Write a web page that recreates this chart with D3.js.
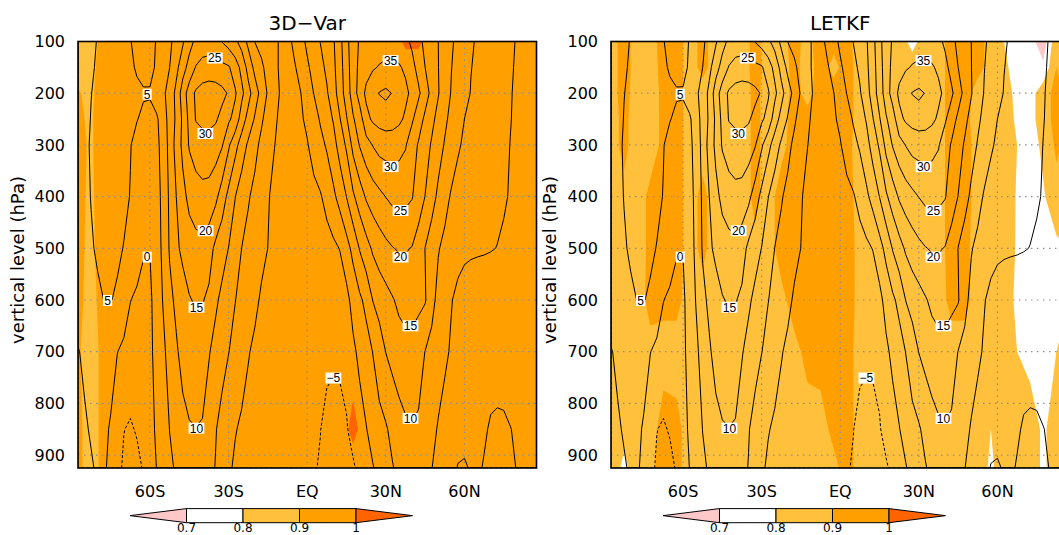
<!DOCTYPE html>
<html>
<head>
<meta charset="utf-8">
<script src="https://cdn.jsdelivr.net/npm/d3@7"></script>
<style>
  body { margin: 0; background: #fff; }
  text { font-family: "DejaVu Sans", sans-serif; fill: #000; }
  .lab text { font-family: "Liberation Sans", Arial, sans-serif; }
</style>
</head>
<body>
<svg id="chart" width="1059" height="535"></svg>
<script>
'use strict';

// pressure levels (grid rows)
var levels = [100, 150, 200, 250, 300, 400, 500, 600, 700, 850, 925];

// 2.5 degree latitudes of the wind grid
var windLats = [-87.5, -85, -82.5, -80, -77.5, -75, -72.5, -70, -67.5, -65, -62.5, -60,
  -57.5, -55, -52.5, -50, -47.5, -45, -42.5, -40, -37.5, -35, -32.5, -30,
  -27.5, -25, -22.5, -20, -17.5, -15, -12.5, -10, -7.5, -5, -2.5, 0,
  2.5, 5, 7.5, 10, 12.5, 15, 17.5, 20, 22.5, 25, 27.5, 30,
  32.5, 35, 37.5, 40, 42.5, 45, 47.5, 50, 52.5, 55, 57.5, 60,
  62.5, 65, 67.5, 70, 72.5, 75, 77.5, 80, 82.5, 85, 87.5];

// zonal wind (m/s), one row per level, contoured
var uWind = [
  [3.5, 4.0, 4.6, 5.1, 5.8, 6.3, 6.3, 5.9, 5.1, 4.3, 3.8, 4.0, 5.2, 7.2, 9.2, 11.6, 14.4, 18.3, 21.0, 22.3, 22.4, 21.8, 19.8, 17.9, 16.0, 13.0, 8.7, 4.9, 3.6, 2.3, 0.9, -0.7, -1.6, 1.1, 3.5, 5.9,
   8.0, 10.1, 12.3, 14.5, 18.6, 23.6, 27.8, 30.5, 31.7, 32.4, 32.9, 33.0, 32.8, 32.3, 31.2, 29.1, 26.3, 23.9, 22.0, 20.0, 17.8, 15.6, 13.8, 12.2, 10.5, 9.5, 8.7, 7.9, 7.1, 6.3, 5.5, 4.8, 4.2, 3.7, 3.2],
  [3.6, 4.1, 4.7, 5.3, 5.9, 6.3, 6.4, 6.2, 5.6, 4.6, 4.2, 4.4, 5.3, 7.4, 10.0, 13.6, 18.0, 21.8, 25.3, 26.7, 27.2, 27.0, 26.2, 25.5, 22.5, 18.5, 13.2, 8.6, 5.8, 3.5, 0.9, -0.7, -1.4, -0.6, 1.8, 4.3,
   6.5, 8.7, 10.9, 13.9, 18.0, 22.9, 27.7, 31.2, 33.3, 34.5, 35.3, 35.8, 35.9, 35.5, 34.2, 31.5, 28.3, 25.0, 22.5, 20.1, 17.6, 15.1, 13.6, 11.8, 10.1, 9.3, 8.5, 7.7, 6.9, 6.1, 5.4, 4.6, 4.1, 3.7, 3.2],
  [3.8, 4.3, 4.95, 5.5, 6.0, 6.4, 6.5, 6.4, 6.1, 5.7, 5.25, 5.2, 7.5, 9.1, 11.9, 16.3, 22.5, 27.4, 30.8, 32.1, 32.5, 32.2, 31.3, 29.5, 25.6, 21.2, 16.7, 12.4, 8.3, 4.4, 1.5, -0.5, -1.3, -0.8, -0.1, 2.5,
   5.1, 7.3, 9.5, 13.0, 17.4, 22.4, 27.3, 32.2, 36.0, 38.4, 40.2, 41.0, 39.8, 38.0, 36.1, 33.8, 30.8, 27.2, 23.6, 20.3, 17.4, 14.7, 13.0, 11.4, 9.8, 9.1, 8.3, 7.5, 6.7, 5.9, 5.2, 4.5, 4.0, 3.6, 3.2],
  [3.8, 4.2, 5.1, 5.6, 6.0, 6.3, 6.3, 6.1, 5.7, 5.1, 4.5, 4.4, 4.3, 7.6, 11.9, 15.8, 21.0, 26.4, 30.3, 31.2, 31.3, 30.6, 28.5, 25.8, 23.3, 17.5, 13.3, 9.5, 5.7, 3.0, 0.7, -1.0, -1.8, -1.6, -0.6, 0.9,
   2.9, 5.5, 7.8, 10.4, 14.8, 19.6, 24.5, 27.5, 33.5, 35.8, 36.8, 37.4, 37.2, 36.1, 34.2, 30.7, 27.3, 24.0, 21.2, 18.5, 15.9, 13.7, 11.9, 10.0, 9.3, 8.5, 7.8, 7.1, 6.6, 5.9, 5.1, 4.5, 4.0, 3.6, 3.2],
  [3.7, 4.3, 5.3, 5.8, 6.1, 6.2, 6.1, 5.8, 5.1, 4.2, 3.4, 3.2, 3.9, 6.7, 11.8, 16.8, 21.2, 25.5, 27.2, 28.0, 28.1, 27.4, 25.4, 20.7, 16.6, 12.7, 9.1, 6.3, 3.9, 2.0, 0.1, -1.5, -2.3, -2.3, -1.6, -0.3,
   1.8, 3.6, 5.6, 8.3, 12.0, 15.8, 21.5, 25.3, 28.1, 30.2, 31.8, 32.2, 32.1, 31.6, 30.4, 27.2, 24.5, 22.0, 19.5, 17.0, 14.6, 12.5, 10.4, 9.5, 8.9, 8.2, 7.6, 6.9, 6.3, 5.6, 4.95, 4.4, 3.9, 3.5, 3.1],
  [3.5, 4.2, 5.1, 5.6, 5.9, 6.0, 5.9, 5.6, 4.9, 3.4, 2.3, 2.1, 3.0, 6.5, 10.9, 15.0, 18.6, 21.3, 22.9, 23.5, 23.2, 21.3, 17.5, 13.6, 10.1, 7.3, 5.4, 3.8, 2.3, 0.4, -1.3, -2.4, -3.0, -3.0, -2.6, -2.0,
   -1.3, -0.4, 1.5, 4.0, 6.9, 10.1, 14.2, 17.5, 20.6, 22.5, 23.8, 25.1, 26.2, 26.5, 26.3, 25.3, 22.5, 19.9, 16.9, 14.0, 11.5, 9.5, 8.8, 8.2, 7.6, 7.1, 6.6, 6.1, 5.6, 5.3, 4.8, 4.3, 3.8, 3.4, 3.0],
  [3.0, 3.8, 4.7, 5.4, 5.7, 5.8, 5.5, 4.9, 3.6, 2.2, 0.3, 0.2, 2.6, 6.2, 10.5, 14.0, 16.2, 17.6, 18.3, 18.5, 17.2, 13.8, 11.8, 9.9, 7.6, 4.95, 3.7, 2.4, 1.2, -0.05, -1.3, -2.3, -3.0, -3.3, -3.3, -3.1,
   -2.8, -2.3, -1.8, -1.0, 0.2, 3.2, 6.4, 10.3, 13.1, 15.7, 17.5, 18.8, 19.8, 20.4, 20.4, 19.8, 17.8, 14.9, 12.6, 10.3, 8.9, 7.6, 6.4, 5.7, 5.5, 5.4, 5.3, 5.15, 4.95, 4.6, 4.2, 3.8, 3.4, 3.0, 2.6],
  [2.0, 3.0, 3.9, 4.5, 5.05, 5.1, 4.6, 3.0, 0.1, -0.8, -1.1, -0.9, 2.3, 5.3, 8.8, 11.0, 12.8, 14.7, 15.5, 15.3, 14.0, 10.8, 8.9, 7.0, 5.1, 3.8, 2.5, 1.0, -0.6, -1.5, -2.3, -2.9, -3.3, -3.6, -3.8, -3.9,
   -4.0, -3.9, -3.7, -3.4, -2.9, -1.5, 1.8, 4.1, 6.3, 10.1, 11.8, 13.2, 14.6, 16.0, 16.8, 16.9, 16.3, 15.4, 11.5, 8.6, 6.8, 5.2, 4.0, 3.5, 3.2, 3.0, 3.0, 3.0, 3.0, 3.0, 2.9, 2.8, 2.6, 2.3, 2.0],
  [-0.2, 0.6, 1.4, 1.9, 1.8, 1.2, 0.1, -1.1, -1.9, -2.2, -1.9, -0.8, 1.3, 4.0, 6.9, 9.4, 11.5, 12.9, 13.5, 13.1, 10.3, 8.5, 6.8, 5.1, 3.6, 2.2, 0.3, -0.9, -1.8, -2.4, -2.9, -3.3, -3.6, -3.8, -4.0, -4.1,
   -4.2, -4.3, -4.4, -4.5, -4.4, -3.8, -1.0, 1.2, 3.0, 5.1, 7.6, 10.1, 11.6, 12.8, 13.4, 13.3, 12.0, 9.9, 8.6, 7.3, 5.8, 4.5, 3.6, 3.1, 2.8, 2.6, 2.6, 2.6, 2.6, 2.5, 2.4, 2.2, 2.0, 1.7, 1.4],
  [-1.0, -0.4, 0.3, 0.8, 0.6, -0.3, -3.0, -4.9, -5.5, -4.6, -3.0, -1.3, 0.6, 2.7, 5.1, 7.2, 8.7, 9.6, 9.9, 9.5, 7.8, 5.3, 3.3, 1.6, 0.3, -0.8, -1.6, -2.2, -2.6, -2.9, -3.2, -3.5, -3.8, -4.1, -4.4, -4.7,
   -4.9, -4.95, -5.7, -6.0, -5.9, -5.3, -3.6, -2.0, -0.2, 1.8, 3.5, 4.5, 6.3, 8.0, 9.2, 9.7, 9.3, 8.0, 6.3, 4.6, 3.4, 2.4, 1.5, 1.2, 1.5, 1.3, 0.7, -0.6, -1.0, -0.8, -0.1, 0.5, 0.8, 0.8, 0.6],
  [-1.8, -1.1, -0.3, 0.4, 0.3, -0.6, -3.8, -5.6, -6.5, -6.2, -4.6, -2.6, 0.1, 2.3, 4.1, 5.6, 6.9, 7.7, 8.0, 7.6, 6.4, 4.8, 2.8, 0.8, -0.8, -1.8, -2.5, -2.9, -3.2, -3.4, -3.6, -3.8, -4.0, -4.2, -4.4, -4.6,
   -4.8, -5.2, -6.0, -6.5, -6.6, -6.3, -5.5, -4.0, -2.2, -0.3, 1.5, 3.2, 4.7, 6.2, 7.3, 7.8, 7.6, 6.8, 5.1, 3.6, 2.3, 1.2, -0.2, -0.4, 0.3, 0.8, -0.4, -1.5, -2.0, -1.8, -1.0, 0.2, 0.9, 1.0, 0.8]
];

// 5 degree latitudes of the correlation grids
var corrLats = [-87.5, -82.5, -77.5, -72.5, -67.5, -62.5, -57.5, -52.5, -47.5, -42.5, -37.5, -32.5,
  -27.5, -22.5, -17.5, -12.5, -7.5, -2.5, 2.5, 7.5, 12.5, 17.5, 22.5, 27.5,
  32.5, 37.5, 42.5, 47.5, 52.5, 57.5, 62.5, 67.5, 72.5, 77.5, 82.5, 87.5];

var corr3dvar = [
  [0.87, 0.87, 0.93, 0.95, 0.95, 0.95, 0.95, 0.95, 0.95, 0.95, 0.95, 0.95, 0.95, 0.95, 0.95, 0.95, 0.95, 0.95, 0.95, 0.95, 0.95, 0.95, 0.95, 0.95, 0.95, 1.02, 1.02, 0.95, 0.95, 0.95, 0.95, 0.95, 0.95, 0.95, 0.95, 0.95],
  [0.88, 0.88, 0.94, 0.95, 0.95, 0.95, 0.95, 0.95, 0.95, 0.95, 0.95, 0.95, 0.95, 0.95, 0.95, 0.95, 0.95, 0.95, 0.95, 0.95, 0.95, 0.95, 0.95, 0.95, 0.95, 0.95, 0.95, 0.95, 0.95, 0.95, 0.95, 0.95, 0.95, 0.95, 0.95, 0.95],
  [0.905, 0.885, 0.95, 0.95, 0.95, 0.95, 0.95, 0.95, 0.95, 0.95, 0.95, 0.95, 0.95, 0.95, 0.95, 0.95, 0.95, 0.95, 0.95, 0.95, 0.95, 0.95, 0.95, 0.95, 0.95, 0.95, 0.95, 0.95, 0.95, 0.95, 0.95, 0.95, 0.95, 0.95, 0.95, 0.95],
  [0.91, 0.89, 0.95, 0.95, 0.95, 0.95, 0.95, 0.95, 0.95, 0.95, 0.95, 0.95, 0.95, 0.95, 0.95, 0.95, 0.95, 0.95, 0.95, 0.95, 0.95, 0.95, 0.95, 0.95, 0.95, 0.95, 0.95, 0.95, 0.95, 0.95, 0.95, 0.95, 0.95, 0.95, 0.95, 0.95],
  [0.92, 0.89, 0.95, 0.95, 0.95, 0.95, 0.95, 0.95, 0.95, 0.95, 0.95, 0.95, 0.95, 0.95, 0.95, 0.95, 0.95, 0.95, 0.95, 0.95, 0.95, 0.95, 0.95, 0.95, 0.95, 0.95, 0.95, 0.95, 0.95, 0.95, 0.95, 0.95, 0.95, 0.95, 0.95, 0.95],
  [0.92, 0.885, 0.95, 0.95, 0.95, 0.95, 0.95, 0.95, 0.95, 0.95, 0.95, 0.95, 0.95, 0.95, 0.95, 0.95, 0.95, 0.95, 0.95, 0.95, 0.95, 0.95, 0.95, 0.95, 0.95, 0.95, 0.95, 0.95, 0.95, 0.95, 0.95, 0.95, 0.95, 0.95, 0.95, 0.95],
  [0.92, 0.88, 0.95, 0.95, 0.95, 0.95, 0.95, 0.95, 0.95, 0.95, 0.95, 0.95, 0.95, 0.95, 0.95, 0.95, 0.95, 0.95, 0.95, 0.95, 0.95, 0.95, 0.95, 0.95, 0.95, 0.95, 0.95, 0.95, 0.95, 0.95, 0.95, 0.95, 0.95, 0.95, 0.95, 0.95],
  [0.92, 0.87, 0.94, 0.95, 0.95, 0.95, 0.95, 0.95, 0.95, 0.95, 0.95, 0.95, 0.95, 0.95, 0.95, 0.95, 0.95, 0.95, 0.95, 0.95, 0.95, 0.95, 0.95, 0.95, 0.95, 0.95, 0.95, 0.95, 0.95, 0.95, 0.95, 0.95, 0.95, 0.95, 0.95, 0.95],
  [0.91, 0.86, 0.93, 0.95, 0.95, 0.95, 0.95, 0.95, 0.95, 0.95, 0.95, 0.95, 0.95, 0.95, 0.95, 0.95, 0.95, 0.95, 0.95, 0.95, 0.95, 0.95, 0.95, 0.95, 0.95, 0.95, 0.95, 0.95, 0.95, 0.95, 0.95, 0.95, 0.95, 0.95, 0.95, 0.95],
  [0.92, 0.86, 0.93, 0.95, 0.95, 0.95, 0.95, 0.95, 0.95, 0.95, 0.95, 0.95, 0.95, 0.95, 0.95, 0.95, 0.95, 0.95, 0.95, 0.95, 0.95, 1.03, 0.95, 0.95, 0.95, 0.95, 0.95, 0.95, 0.95, 0.95, 0.95, 0.95, 0.95, 0.95, 0.95, 0.95],
  [0.92, 0.86, 0.93, 0.95, 0.95, 0.95, 0.95, 0.95, 0.95, 0.95, 0.95, 0.95, 0.95, 0.95, 0.95, 0.95, 0.95, 0.95, 0.95, 0.95, 0.95, 0.95, 0.95, 0.95, 0.95, 0.95, 0.95, 0.95, 0.95, 0.95, 0.95, 0.95, 0.95, 0.95, 0.95, 0.95]
];

var corrLetkf = [
  [0.87, 0.93, 0.87, 0.87, 0.93, 0.93, 0.87, 0.92, 0.87, 0.87, 0.87, 0.92, 0.87, 0.88, 0.92, 0.88, 0.93, 0.92, 0.92, 0.87, 0.86, 0.87, 0.86, 0.76, 0.86, 0.87, 0.93, 0.93, 0.92, 0.88, 0.80, 0.76, 0.74, 0.64, 0.88, 0.87],
  [0.87, 0.93, 0.87, 0.86, 0.93, 0.93, 0.87, 0.92, 0.87, 0.87, 0.86, 0.93, 0.87, 0.87, 0.92, 0.87, 0.93, 0.88, 0.93, 0.87, 0.86, 0.87, 0.86, 0.86, 0.86, 0.87, 0.93, 0.93, 0.92, 0.88, 0.82, 0.76, 0.76, 0.72, 0.90, 0.87],
  [0.87, 0.93, 0.86, 0.86, 0.92, 0.93, 0.87, 0.87, 0.86, 0.86, 0.86, 0.92, 0.87, 0.87, 0.92, 0.88, 0.93, 0.93, 0.93, 0.87, 0.86, 0.86, 0.86, 0.86, 0.86, 0.87, 0.93, 0.93, 0.87, 0.88, 0.85, 0.77, 0.76, 0.86, 0.93, 0.87],
  [0.87, 0.92, 0.86, 0.86, 0.92, 0.93, 0.87, 0.87, 0.86, 0.86, 0.86, 0.92, 0.87, 0.88, 0.92, 0.92, 0.93, 0.93, 0.93, 0.87, 0.86, 0.86, 0.86, 0.86, 0.86, 0.87, 0.93, 0.92, 0.87, 0.86, 0.86, 0.78, 0.76, 0.86, 0.93, 0.87],
  [0.87, 0.92, 0.86, 0.86, 0.92, 0.93, 0.87, 0.87, 0.86, 0.86, 0.86, 0.92, 0.87, 0.88, 0.93, 0.93, 0.93, 0.93, 0.92, 0.87, 0.86, 0.86, 0.86, 0.86, 0.86, 0.87, 0.93, 0.92, 0.88, 0.86, 0.87, 0.80, 0.76, 0.82, 0.92, 0.87],
  [0.88, 0.88, 0.86, 0.92, 0.92, 0.93, 0.87, 0.92, 0.86, 0.86, 0.86, 0.92, 0.87, 0.93, 0.94, 0.94, 0.94, 0.94, 0.93, 0.87, 0.86, 0.86, 0.86, 0.86, 0.86, 0.87, 0.93, 0.92, 0.88, 0.86, 0.87, 0.79, 0.76, 0.79, 0.86, 0.87],
  [0.88, 0.87, 0.86, 0.92, 0.92, 0.93, 0.87, 0.92, 0.86, 0.86, 0.86, 0.88, 0.87, 0.93, 0.94, 0.94, 0.94, 0.94, 0.93, 0.88, 0.86, 0.86, 0.86, 0.86, 0.86, 0.87, 0.93, 0.92, 0.87, 0.86, 0.86, 0.79, 0.76, 0.76, 0.78, 0.80],
  [0.88, 0.87, 0.87, 0.92, 0.92, 0.92, 0.87, 0.87, 0.86, 0.86, 0.86, 0.87, 0.87, 0.88, 0.93, 0.94, 0.94, 0.94, 0.93, 0.88, 0.86, 0.86, 0.86, 0.86, 0.86, 0.87, 0.92, 0.92, 0.87, 0.86, 0.85, 0.78, 0.76, 0.76, 0.77, 0.80],
  [0.87, 0.87, 0.87, 0.88, 0.87, 0.87, 0.87, 0.87, 0.86, 0.86, 0.86, 0.86, 0.86, 0.87, 0.88, 0.92, 0.93, 0.93, 0.93, 0.87, 0.86, 0.86, 0.86, 0.86, 0.86, 0.86, 0.87, 0.87, 0.86, 0.86, 0.84, 0.80, 0.76, 0.77, 0.80, 0.84],
  [0.87, 0.84, 0.87, 0.87, 0.93, 0.92, 0.87, 0.86, 0.86, 0.86, 0.86, 0.86, 0.86, 0.86, 0.86, 0.87, 0.87, 0.92, 0.93, 0.87, 0.86, 0.86, 0.86, 0.86, 0.86, 0.86, 0.86, 0.86, 0.86, 0.80, 0.86, 0.82, 0.86, 0.78, 0.86, 0.86],
  [0.87, 0.77, 0.87, 0.88, 0.93, 0.92, 0.87, 0.86, 0.86, 0.86, 0.86, 0.86, 0.86, 0.86, 0.86, 0.86, 0.87, 0.88, 0.93, 0.87, 0.86, 0.86, 0.86, 0.86, 0.86, 0.86, 0.86, 0.86, 0.86, 0.78, 0.86, 0.84, 0.86, 0.78, 0.86, 0.86]
];

var corrBreaks = [0.7, 0.8, 0.9, 1];
var corrColors = ['#ffc8c8', '#ffffff', '#ffc03c', '#ffa000', '#ff6400'];
var corrBreakLabels = ['0.7', '0.8', '0.9', '1'];
var windLevels = [-5, 0, 5, 10, 15, 20, 25, 30, 35, 40];

var latTicks = [-60, -30, 0, 30, 60];
var latTickLabels = ['60S', '30S', 'EQ', '30N', '60N'];
var pTicks = [100, 200, 300, 400, 500, 600, 700, 800, 900];

// contour labels: [lat, pressure, text]
var windLabels = [
  [-61.1, 202, '5'], [-35.3, 132, '25'], [-38.9, 278, '30'], [-38.8, 466, '20'],
  [-61.1, 517, '0'], [-76.2, 601, '5'], [-42.3, 614, '15'], [-42.3, 848, '10'],
  [31.8, 137, '35'], [31.8, 342, '30'], [35.6, 427, '25'], [35.6, 517, '20'],
  [39.4, 650, '15'], [39.4, 829, '10'], [10, 751, '\u22125']
];

var panels = [
  { title: '3D\u2212Var', corr: corr3dvar, left: 78, ylab: 54 },
  { title: 'LETKF', corr: corrLetkf, left: 611, ylab: 55 }
];

var plotW = 458.5, plotTop = 41.5, plotBottom = 468;
var svg = d3.select('#chart');

function interp(arr, t) {
  t = Math.max(0, Math.min(arr.length - 1, t));
  var i = Math.min(Math.floor(t), arr.length - 2);
  return arr[i] + (arr[i + 1] - arr[i]) * (t - i);
}

// d3.contours works in grid index space; map it to lat / pressure
function contourPath(geo, lats, x, y) {
  return geo.coordinates.map(function(poly) {
    return poly.map(function(ring) {
      return 'M' + ring.map(function(pt) {
        var px = x(interp(lats, pt[0] - 0.5)), py = y(interp(levels, pt[1] - 0.5));
        return px.toFixed(2) + ',' + py.toFixed(2);
      }).join('L') + 'Z';
    }).join('');
  }).join('');
}

var windContours = d3.contours().size([windLats.length, levels.length])
  .thresholds(windLevels)(d3.merge(uWind));

panels.forEach(function(panel, k) {
  var x = d3.scaleLinear().domain([-87.5, 87.5]).range([panel.left, panel.left + plotW]);
  var y = d3.scaleLinear().domain([100, 925]).range([plotTop, plotBottom]);
  var g = svg.append('g');
  var clipId = 'clip' + k;

  g.append('clipPath').attr('id', clipId)
    .append('rect').attr('x', panel.left).attr('y', plotTop).attr('width', plotW).attr('height', plotBottom - plotTop);

  var plot = g.append('g').attr('clip-path', 'url(#' + clipId + ')');

  plot.append('rect')
    .attr('x', panel.left).attr('y', plotTop).attr('width', plotW).attr('height', plotBottom - plotTop)
    .attr('fill', corrColors[0]);

  var shade = d3.contours().size([corrLats.length, levels.length])
    .thresholds(corrBreaks)(d3.merge(panel.corr));
  plot.selectAll('path.shade').data(shade).enter().append('path')
    .attr('class', 'shade')
    .attr('d', function(d) { return contourPath(d, corrLats, x, y); })
    .attr('fill', function(d, i) { return corrColors[i + 1]; })
    .attr('fill-rule', 'evenodd');

  // dotted grid
  plot.selectAll('line.gx').data(latTicks).enter().append('line')
    .attr('x1', x).attr('x2', x).attr('y1', plotTop).attr('y2', plotBottom)
    .attr('stroke', '#8c8c8c').attr('stroke-width', 1.2).attr('stroke-dasharray', '1.5,4.5');
  plot.selectAll('line.gy').data(pTicks.slice(1)).enter().append('line')
    .attr('x1', panel.left).attr('x2', panel.left + plotW).attr('y1', y).attr('y2', y)
    .attr('stroke', '#8c8c8c').attr('stroke-width', 1.2).attr('stroke-dasharray', '1.5,4.5');

  plot.selectAll('path.wind').data(windContours).enter().append('path')
    .attr('class', 'wind')
    .attr('d', function(d) { return contourPath(d, windLats, x, y); })
    .attr('fill', 'none')
    .attr('stroke', '#000')
    .attr('stroke-width', 1)
    .attr('stroke-dasharray', function(d) { return d.value < 0 ? '3,2' : null; });

  var lab = plot.selectAll('g.lab').data(windLabels).enter().append('g')
    .attr('class', 'lab')
    .attr('transform', function(d) { return 'translate(' + x(d[0]) + ',' + y(d[1]) + ')'; });
  lab.append('rect')
    .attr('x', function(d) { return -d[2].length * 3.35 - 1.2; })
    .attr('y', -5.5)
    .attr('width', function(d) { return d[2].length * 6.7 + 2.4; })
    .attr('height', 11)
    .attr('fill', '#fff');
  lab.append('text')
    .attr('text-anchor', 'middle').attr('dy', '0.36em')
    .style('font-size', '12px')
    .text(function(d) { return d[2]; });

  g.append('rect')
    .attr('x', panel.left).attr('y', plotTop).attr('width', plotW).attr('height', plotBottom - plotTop)
    .attr('fill', 'none').attr('stroke', '#000').attr('stroke-width', 1.6);

  g.selectAll('text.yt').data(pTicks).enter().append('text')
    .attr('x', panel.left - 13).attr('y', y).attr('dy', '0.36em')
    .attr('text-anchor', 'end').style('font-size', '16px')
    .text(function(d) { return d; });

  g.selectAll('text.xt').data(latTicks).enter().append('text')
    .attr('x', x).attr('y', 497).attr('text-anchor', 'middle').style('font-size', '16px')
    .text(function(d, i) { return latTickLabels[i]; });

  g.append('text')
    .attr('x', panel.left + plotW / 2).attr('y', 30)
    .attr('text-anchor', 'middle').style('font-size', '20px')
    .text(panel.title);

  g.append('text')
    .attr('transform', 'translate(' + (panel.left - panel.ylab) + ',260) rotate(-90)')
    .attr('text-anchor', 'middle').style('font-size', '18px')
    .text('vertical level (hPa)');

  // colour bar with triangular ends
  var seg = 56.5, cb0 = panel.left + 52, cbTop = 508.6, cbBot = 522.7, cbMid = (cbTop + cbBot) / 2;
  var cbx = d3.scaleLinear().domain([0, 5]).range([cb0, cb0 + 5 * seg]);
  var cb = g.append('g');
  cb.selectAll('path').data(corrColors).enter().append('path')
    .attr('d', function(d, i) {
      if (i === 0) return 'M' + cbx(0) + ',' + cbMid + 'L' + cbx(1) + ',' + cbTop + 'L' + cbx(1) + ',' + cbBot + 'Z';
      if (i === 4) return 'M' + cbx(4) + ',' + cbTop + 'L' + cbx(5) + ',' + cbMid + 'L' + cbx(4) + ',' + cbBot + 'Z';
      return 'M' + cbx(i) + ',' + cbTop + 'H' + cbx(i + 1) + 'V' + cbBot + 'H' + cbx(i) + 'Z';
    })
    .attr('fill', function(d) { return d; })
    .attr('stroke', '#000').attr('stroke-width', 1);
  cb.selectAll('text').data(corrBreakLabels).enter().append('text')
    .attr('x', function(d, i) { return cbx(i + 1); }).attr('y', 532)
    .attr('text-anchor', 'middle').style('font-size', '12px')
    .text(function(d) { return d; });
});
</script>
</body>
</html>
